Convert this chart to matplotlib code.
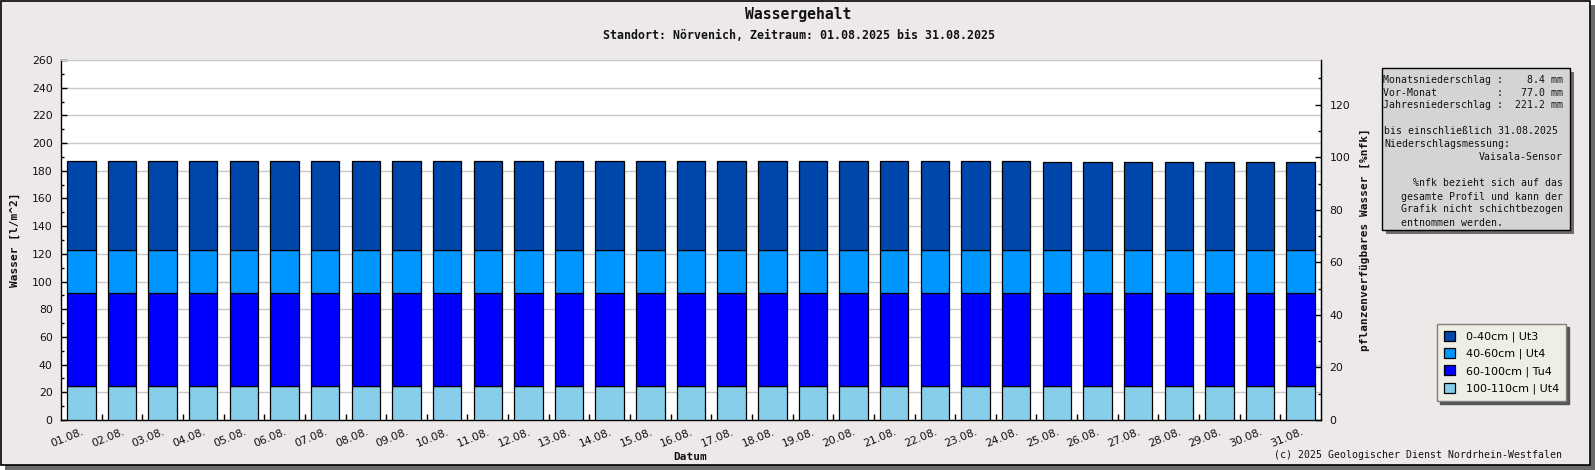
import matplotlib
matplotlib.use("Agg")
import matplotlib.pyplot as plt
from matplotlib.patches import Rectangle
from matplotlib.ticker import MultipleLocator, FixedLocator
import numpy as np

# ---------------- data ----------------
days = ["01.08.", "02.08.", "03.08.", "04.08.", "05.08.", "06.08.", "07.08.", "08.08.",
        "09.08.", "10.08.", "11.08.", "12.08.", "13.08.", "14.08.", "15.08.", "16.08.",
        "17.08.", "18.08.", "19.08.", "20.08.", "21.08.", "22.08.", "23.08.", "24.08.",
        "25.08.", "26.08.", "27.08.", "28.08.", "29.08.", "30.08.", "31.08."]

# water content per layer [l/m^2]
layer_100_110 = [24.8, 24.8, 24.8, 24.8, 24.8, 24.8, 24.8, 24.8, 24.8, 24.8, 24.8,
                 24.8, 24.8, 24.8, 24.8, 24.8, 24.8, 24.8, 24.8, 24.8, 24.8, 24.8,
                 24.8, 24.8, 24.8, 24.8, 24.8, 24.8, 24.8, 24.8, 24.8]
layer_60_100 = [66.6, 66.6, 66.6, 66.6, 66.6, 66.6, 66.6, 66.6, 66.6, 66.6, 66.6,
                66.6, 66.6, 66.6, 66.6, 66.6, 66.6, 66.6, 66.6, 66.6, 66.6, 66.6,
                66.6, 66.6, 66.6, 66.6, 66.6, 66.6, 66.6, 66.6, 66.6]
layer_40_60 = [31.5, 31.5, 31.5, 31.5, 31.5, 31.5, 31.5, 31.5, 31.5, 31.5, 31.5,
               31.5, 31.5, 31.5, 31.5, 31.5, 31.5, 31.5, 31.5, 31.5, 31.5, 31.5,
               31.5, 31.5, 31.5, 31.5, 31.5, 31.5, 31.5, 31.5, 31.5]
layer_0_40 = [64.4, 64.4, 64.4, 64.4, 64.4, 64.4, 64.4, 64.4, 64.4, 64.4, 64.4,
              64.4, 64.4, 64.4, 64.4, 64.4, 64.4, 64.4, 64.4, 64.4, 64.4, 64.4,
              64.5, 64.5, 63.7, 63.7, 63.7, 63.7, 63.7, 63.7, 63.7]

layer_labels = ["100-110cm | Ut4", "60-100cm | Tu4", "40-60cm | Ut4", "0-40cm | Ut3"]
layer_colors = ["#87CEEB", "#0000FF", "#0096FF", "#0047AB"]

info_lines = [
    ("Monatsniederschlag :    8.4 mm", "r"),
    ("Vor-Monat          :   77.0 mm", "r"),
    ("Jahresniederschlag :  221.2 mm", "r"),
    ("bis einschließlich 31.08.2025", "l"),
    ("Niederschlagsmessung:", "l"),
    ("Vaisala-Sensor", "r"),
    ("%nfk bezieht sich auf das", "r"),
    ("gesamte Profil und kann der", "r"),
    ("Grafik nicht schichtbezogen", "r"),
    ("entnommen werden.          ", "r"),
]
info_y = [80, 92.7, 105, 131, 144.3, 157.3, 183.3, 196.7, 209.3, 222.7]

# ---------------- figure ----------------
W, H = 1595, 470
fig = plt.figure(figsize=(W / 100, H / 100), dpi=100)
fig.patch.set_facecolor("white")

def fx(x):
    return x / W

def fy(y):
    return 1 - y / H

BG = "#ECE9E8"
SH = "#6B6B6B"
fig.patches.append(Rectangle((fx(5), 0), fx(1590), 465 / H, transform=fig.transFigure,
                             facecolor=SH, edgecolor="none", zorder=-10))
fig.patches.append(Rectangle((fx(0.5), fy(465)), fx(1589.5), 464.5 / H, transform=fig.transFigure,
                             facecolor=BG, edgecolor="black", linewidth=1.2, zorder=-9))

MONO = "DejaVu Sans Mono"
TXT = "#111111"

ax = fig.add_axes([fx(61), fy(420), fx(1260), 360 / H])
ax.set_facecolor("white")

x = np.arange(len(days))
series = [layer_100_110, layer_60_100, layer_40_60, layer_0_40]
bottom = np.zeros(len(days))
handles = []
for vals, col, lab in zip(series, layer_colors, layer_labels):
    v = np.array(vals)
    b = ax.bar(x, v, bottom=bottom, width=0.7, color=col, edgecolor="black",
               linewidth=0.9, label=lab, zorder=3)
    handles.append(b)
    bottom = bottom + v

ax.set_xlim(-0.5, len(days) - 0.5)
ax.set_ylim(0, 260)
ax.yaxis.set_major_locator(MultipleLocator(20))
ax.yaxis.set_minor_locator(MultipleLocator(10))
ax.grid(axis="y", which="major", color="#C8C8C8", linewidth=1.0, zorder=0)
ax.set_axisbelow(True)
ax.tick_params(axis="y", which="major", direction="in", length=4, width=1,
               labelsize=7.8, pad=6, labelcolor=TXT)
ax.tick_params(axis="y", which="minor", direction="in", length=2.4, width=1)

ax.xaxis.set_major_locator(FixedLocator(x))
ax.set_xticklabels(days)
ax.xaxis.set_minor_locator(FixedLocator(x[:-1] + 0.5))
ax.tick_params(axis="x", which="major", length=0, labelsize=7.8, pad=5, labelcolor=TXT)
ax.tick_params(axis="x", which="minor", direction="in", length=4, width=1)
for t in ax.get_xticklabels():
    t.set_rotation(22)
    t.set_ha("right")
    t.set_va("top")
    t.set_rotation_mode("anchor")

for s in ["left", "bottom", "right"]:
    ax.spines[s].set_color("black")
    ax.spines[s].set_linewidth(1.0)
ax.spines["top"].set_color("#C8C8C8")

ax2 = ax.twinx()
ax2.set_ylim(0, 137.0)
ax2.yaxis.set_major_locator(MultipleLocator(20))
ax2.yaxis.set_minor_locator(MultipleLocator(10))
ax2.tick_params(axis="y", which="major", direction="in", length=4, width=1,
                labelsize=7.8, pad=6, labelcolor=TXT)
ax2.tick_params(axis="y", which="minor", direction="in", length=2.4, width=1)
ax2.spines["top"].set_visible(False)
ax2.spines["left"].set_visible(False)
ax2.spines["bottom"].set_visible(False)

# axis labels
fig.text(fx(15), fy(240), "Wasser [l/m^2]", rotation=90, ha="center", va="center",
         family=MONO, fontweight="bold", fontsize=8, color=TXT)
fig.text(fx(1365), fy(240), "pflanzenverfügbares Wasser [%nfk]", rotation=90,
         ha="center", va="center", family=MONO, fontweight="bold", fontsize=8, color=TXT)
fig.text(fx(690), fy(457), "Datum", ha="center", va="center", family=MONO,
         fontweight="bold", fontsize=8, color=TXT)

# titles
fig.text(fx(798), fy(15), "Wassergehalt", ha="center", va="center", family=MONO,
         fontweight="bold", fontsize=10.6, color=TXT)
fig.text(fx(799), fy(35.5), "Standort: Nörvenich, Zeitraum: 01.08.2025 bis 31.08.2025",
         ha="center", va="center", family=MONO, fontweight="bold", fontsize=8.4, color=TXT)

fig.text(fx(1562), fy(455), "(c) 2025 Geologischer Dienst Nordrhein-Westfalen",
         ha="right", va="center", family=MONO, fontsize=7.1, color=TXT)

# info box
fig.patches.append(Rectangle((fx(1385.5), fy(234)), fx(188.3), 161.7 / H,
                             transform=fig.transFigure, facecolor=SH, edgecolor="none",
                             zorder=3))
fig.patches.append(Rectangle((fx(1381.7), fy(230)), fx(188.3), 161.7 / H,
                             transform=fig.transFigure, facecolor="#D4D4D4",
                             edgecolor="black", linewidth=1.0, zorder=3.5))
for (line, al), yy in zip(info_lines, info_y):
    if al == "l":
        fig.text(fx(1384), fy(yy), line, ha="left", va="center", family=MONO,
                 fontsize=7.1, color=TXT, zorder=4)
    else:
        fig.text(fx(1563), fy(yy), line, ha="right", va="center", family=MONO,
                 fontsize=7.1, color=TXT, zorder=4)

# legend
leg = ax.legend(handles[::-1], layer_labels[::-1], loc="upper left",
                bbox_to_anchor=(fx(1437), fy(324)), bbox_transform=fig.transFigure,
                borderaxespad=0, fontsize=8, frameon=True, fancybox=False,
                edgecolor="#808080", facecolor="#EEEEE5", framealpha=1,
                handlelength=1.0, handleheight=1.0, handletextpad=1.05,
                labelspacing=0.55, borderpad=0.6,
                shadow={"color": "#555555", "alpha": 1.0})
leg.get_frame().set_linewidth(1.0)
leg.set_zorder(10)

fig.savefig("out.png", dpi=100, facecolor=fig.get_facecolor())
